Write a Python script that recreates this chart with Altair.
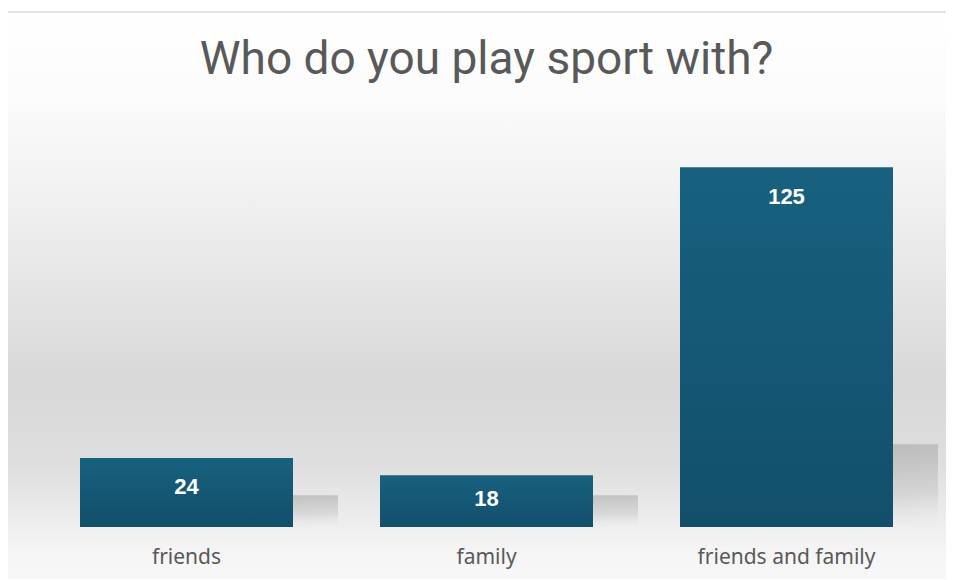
import altair as alt
import pandas as pd

categories = ["friends", "family", "friends and family"]
values = [24, 18, 125]
title_text = "Who do you play sport with?"

df = pd.DataFrame({"category": categories, "value": values})

W, H = 900, 403
PL, PT = 28.5, 116
BG_TOP = 112

bg_grad = alt.Gradient(
    gradient="linear", x1=0, y1=0, x2=0, y2=1,
    stops=[
        alt.GradientStop(offset=0.0, color="#ffffff"),
        alt.GradientStop(offset=0.15, color="#fbfbfb"),
        alt.GradientStop(offset=0.35, color="#eeeeee"),
        alt.GradientStop(offset=0.62, color="#d8d8d8"),
        alt.GradientStop(offset=0.76, color="#dedede"),
        alt.GradientStop(offset=0.90, color="#f4f4f4"),
        alt.GradientStop(offset=1.0, color="#fbfbfb"),
    ],
)

bar_grad = alt.Gradient(
    gradient="linear", x1=0, y1=0, x2=0, y2=1,
    stops=[
        alt.GradientStop(offset=0.0, color="#17617f"),
        alt.GradientStop(offset=1.0, color="#124f6b"),
    ],
)

shadow_grad = alt.Gradient(
    gradient="linear", x1=0.75, y1=0, x2=1, y2=1,
    stops=[
        alt.GradientStop(offset=0.0, color="rgba(150,150,150,0.85)"),
        alt.GradientStop(offset=0.6, color="rgba(170,170,170,0.5)"),
        alt.GradientStop(offset=1.0, color="rgba(220,220,220,0)"),
    ],
)

bg = alt.Chart(pd.DataFrame({"a": [0]})).mark_rect(
    fill=bg_grad, stroke="#d9d9d9", strokeWidth=1.5
).encode(
    x=alt.value(-30.5), x2=alt.value(W + 20),
    y=alt.value(-BG_TOP), y2=alt.value(H + 80),
)

xenc = alt.X(
    "category:N", sort=categories, title=None,
    scale=alt.Scale(paddingInner=0.29, paddingOuter=0.145),
    axis=alt.Axis(ticks=False, domain=False, labelPadding=19, labelFontSize=21,
                  labelColor="#595959", labelFont="Noto Sans", labelAngle=0,
                  labelFontWeight="normal", zindex=2),
)
yscale = alt.Scale(domain=[0, 140])

shadow = alt.Chart(df).transform_calculate(
    sh="datum.value < 50 ? 11 : datum.value * 0.23"
).mark_bar(fill=shadow_grad, xOffset=45, opacity=0.55).encode(
    x=xenc,
    y=alt.Y("sh:Q", scale=yscale, axis=None),
)

bars = alt.Chart(df).mark_bar(fill=bar_grad).encode(
    x=xenc,
    y=alt.Y("value:Q", scale=yscale, axis=None),
)

labels = alt.Chart(df).transform_calculate(
    ly="max(datum.value - 10.2, datum.value * 0.54)"
).mark_text(
    color="white", fontSize=22, fontWeight="bold", font="Liberation Sans",
    baseline="middle",
).encode(
    x=xenc,
    y=alt.Y("ly:Q", scale=yscale, axis=None),
    text="value:Q",
)

chart = alt.layer(bg, shadow, bars, labels).properties(
    width=W, height=H,
    title=alt.TitleParams(
        text=title_text, fontSize=46, font="Roboto",
        fontWeight="normal", color="#595959", anchor="middle", frame="group",
        baseline="alphabetic", offset=-108.25, zindex=2,
    ),
    autosize=alt.AutoSizeParams(type="none"),
    padding={"left": PL, "top": PT, "right": 9, "bottom": 52},
    background="white",
).configure_view(stroke=None)

chart.save("out.html", embed_options={"renderer": "svg", "actions": False})
